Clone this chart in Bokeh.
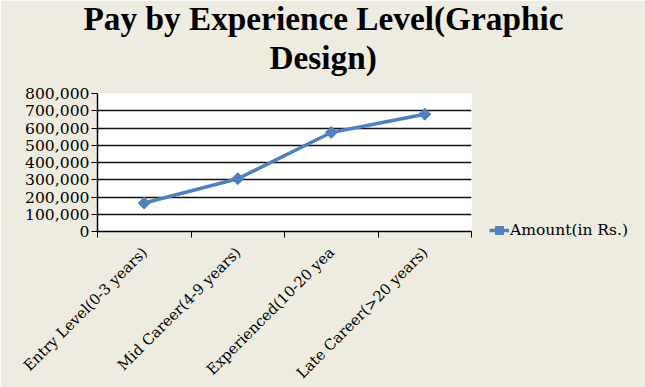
from math import pi
from bokeh.plotting import figure
from bokeh.models import (Range1d, FixedTicker, NumeralTickFormatter, Title,
                          Legend, LegendItem, ColumnDataSource)
from bokeh.embed import file_html
from bokeh.resources import INLINE

# ---- data ----
categories = ["Entry Level(0-3 years)", "Mid Career(4-9 years)",
              "Experienced(10-20 yea", "Late Career(>20 years)"]
amounts = [165000, 306000, 574000, 680000]
y_ticks = [0, 100000, 200000, 300000, 400000, 500000, 600000, 700000, 800000]
series_name = "Amount(in Rs.)"
title_lines = ["Pay by Experience Level(Graphic", "Design)"]

BG = "#EEECE1"
BLUE = "#4F81BD"

xpos = [i + 0.5 for i in range(len(categories))]
src = ColumnDataSource(dict(x=xpos, y=amounts))

p = figure(frame_width=374, frame_height=138, output_backend="svg", toolbar_location=None,
           x_range=Range1d(0, len(categories)), y_range=Range1d(y_ticks[0], y_ticks[-1]),
           min_border_left=97, min_border_right=174, min_border_top=93,
           min_border_bottom=156)
p.background_fill_color = "white"
p.border_fill_color = BG
p.outline_line_color = None

line_r = p.line("x", "y", source=src, line_color=BLUE, line_width=3.5)
mark_r = p.scatter("x", "y", source=src, marker="square", angle=pi / 4, size=8.5,
                   fill_color=BLUE, line_color=BLUE)

# x axis: labels at category centres, tick marks at boundaries
xa = p.xaxis[0]
xa.ticker = FixedTicker(ticks=xpos, minor_ticks=list(range(len(categories) + 1)))
xa.major_label_overrides = {x: c for x, c in zip(xpos, categories)}
xa.major_label_orientation = pi / 4
xa.major_tick_line_color = None
xa.minor_tick_line_color = "black"
xa.minor_tick_out = 6
xa.minor_tick_in = 0
xa.axis_line_color = "black"
xa.axis_line_width = 1.5
xa.major_label_text_font = "DejaVu Serif"
xa.major_label_text_font_size = "14.8px"
xa.major_label_text_color = "black"
xa.major_label_standoff = 12

ya = p.yaxis[0]
ya.ticker = FixedTicker(ticks=y_ticks)
ya.formatter = NumeralTickFormatter(format="0,0")
ya.major_tick_out = 6
ya.major_tick_in = 0
ya.minor_tick_line_color = None
ya.axis_line_color = "black"
ya.axis_line_width = 1.5
ya.major_tick_line_color = "black"
ya.major_label_text_font = "DejaVu Serif"
ya.major_label_text_font_size = "15.6px"
ya.major_label_text_color = "black"
ya.major_label_standoff = 2

p.xgrid.grid_line_color = None
p.ygrid.ticker = FixedTicker(ticks=y_ticks)
p.ygrid.grid_line_color = "#111111"
p.ygrid.grid_line_width = 1.5

# titles (last added is topmost)
p.title.visible = False
t2 = Title(text=title_lines[1], align="left", offset=172, standoff=36,
           text_font="Liberation Serif", text_font_style="bold",
           text_font_size="33.3px", text_color="black")
t1 = Title(text=title_lines[0], align="left", offset=-14, standoff=-36,
           text_font="Liberation Serif", text_font_style="bold",
           text_font_size="33.3px", text_color="black")
p.add_layout(t2, "above")
p.add_layout(t1, "above")

legend = Legend(items=[LegendItem(label=series_name, renderers=[line_r, mark_r])],
                location=(18, -9), padding=0, margin=0, spacing=0,
                glyph_width=20, glyph_height=20, label_height=20,
                label_standoff=1, background_fill_alpha=0,
                border_line_color=None,
                label_text_font="DejaVu Serif", label_text_font_size="15.5px",
                label_text_color="black")
p.add_layout(legend, "right")

open("out.html", "w").write(file_html(p, INLINE))
